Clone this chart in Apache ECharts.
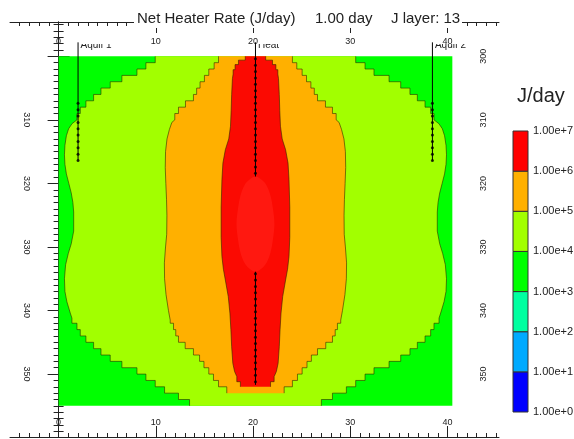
<!DOCTYPE html>
<html><head><meta charset="utf-8">
<script src="https://cdn.jsdelivr.net/npm/echarts@6/dist/echarts.min.js"></script>
<style>html,body{margin:0;padding:0;background:#fff}#c{width:574px;height:439px}</style>
</head><body><div id="c"></div>
<script>
const FONT = "'Liberation Sans', Arial, sans-serif";

// ---------- data ----------
const X_DATA_MAX = 40.5;          // right edge of the model domain (x)
const Y_DATA_TOP = 300, Y_DATA_BOT = 355;

const xMajorTicks = [0, 10, 20, 30, 40];
const yMajorTicks = [300, 310, 320, 330, 340, 350];
const yLeftLabels = [310, 320, 330, 340, 350];
const yRightLabels = [300, 310, 320, 330, 340, 350];

// left-hand contour boundaries: stair rows [x, yFrom, yTo] and smooth parts [x, y]
const limeTopSteps = [[9.94,300,301],[8.98,301,302],[8.06,302,303],[6.51,303,304],[5.31,304,305],[4.36,305,306],[3.6,306,307],[2.81,307,308],[2.23,308,309],[1.89,309,310]];
const limeCurve = [[1.38,310.6],[1.03,311.4],[0.8,312.5],[0.65,314],[0.6,315.5],[0.65,317],[0.8,318.5],[1.05,320],[1.3,321.5],[1.47,323],[1.55,324.5],[1.55,327.5],[1.3,329.5],[1.0,331],[0.72,332.8],[0.6,335],[0.65,337],[0.85,338.6],[1.2,340.4],[1.37,341.2]];
const limeBottomSteps = [[1.37,341.2,342],[1.89,342,343],[2.23,343,344],[2.81,344,345],[3.6,345,346],[4.36,346,347],[5.31,347,348],[6.51,348,349],[8.06,349,350],[8.98,350,351],[9.94,351,352],[10.9,352,353],[12.33,353,354],[13.47,354,355]];

const orangeTopSteps = [[16.45,300,301],[16.0,301,302],[15.45,302,303],[15.0,303,304],[14.55,304,305],[14.2,305,306],[13.87,306,307],[13.05,307,308],[12.33,308,309],[11.95,309,310]];
const orangeCurve = [[11.65,310.4],[11.4,311.5],[11.15,313],[11.0,315],[10.97,317.5],[11.03,320],[11.1,322.5],[11.14,325],[11.12,328],[11.0,330],[10.88,332.5],[10.9,335],[11.05,337.5],[11.3,340],[11.48,341.5]];
const orangeBottomSteps = [[11.48,341.5,342],[11.82,342,343],[12.05,343,344],[12.33,344,345],[13.02,345,346],[13.87,346,347],[14.5,347,348],[14.95,348,349],[15.45,349,350],[15.93,350,351],[16.45,351,352],[17.3,352,353]];

const redTopSteps = [[19.2,300,300.6],[18.5,300.6,301.3],[18.15,301.3,302.1],[17.95,302.1,302.8]];
const redCurve = [[17.88,303.5],[17.8,306],[17.75,308.5],[17.68,311],[17.5,313],[17.15,314.7],[16.9,316.8],[16.8,319.4],[16.72,323.7],[16.72,328.5],[16.8,331.5],[16.95,333.5],[17.15,335.2],[17.45,337.8],[17.62,340.4],[17.72,343],[17.8,345.7],[17.92,348.3],[18.1,349.6],[18.33,350.4]];
const redBottomSteps = [[18.33,350.4,351.2],[18.7,351.2,352]];

// right half of the inner (highest) core, top to bottom
const coreRightHalf = [[20.25,318.9],[20.95,319.5],[21.42,320.4],[21.81,322],[22.05,324],[22.2,326.4],[22.05,328.8],[21.81,330.8],[21.42,332.4],[20.95,333.3],[20.25,333.9]];

// wells
const wellNames = ['Aquif 1', 'Heat', 'Aquif 2'];
const wellX = [2.0, 20.25, 38.45];
const wellTop = [297.8, 297.8, 297.8];
const wellBottom = [316.4, 351.7, 316.4];
const aquifDotsY = [307.4,308.4,309.4,310.4,311.4,312.4,313.4,314.4,315.4,316.4];
const heatDotsY = [300.4,301.4,302.4,303.4,304.4,305.4,306.4,307.4,308.4,309.4,310.4,311.4,312.4,313.4,314.4,315.4,316.4,317.4,318.4,
                   334.2,335.2,336.2,337.2,338.2,339.2,340.2,341.2,342.2,343.2,344.2,345.2,346.2,347.2,348.2,349.2,350.2,351.2];

// colour scale (bottom to top)
const legendColors = ['#0000ff','#00aaff','#00ffa0','#00ff00','#a2ff00','#ffb000','#ff0000'];
const legendLabels = ['1.00e+0','1.00e+1','1.00e+2','1.00e+3','1.00e+4','1.00e+5','1.00e+6','1.00e+7'];
const mapColors = {green:'#00ff00', lime:'#a2ff00', orange:'#ffb000', red:'#fb0a02', core:'#ff1810'};

// ---------- geometry helpers ----------
function buildLeft(top, curve, bottom) {
  const v = [];
  top.forEach(s => { v.push([s[0], s[1]], [s[0], s[2]]); });
  curve.forEach(p => v.push(p));
  bottom.forEach(s => { v.push([s[0], s[1]], [s[0], s[2]]); });
  return v;
}
const mirror = v => v.map(p => [X_DATA_MAX - p[0], p[1]]);
const region = left => left.concat(mirror(left).reverse());

const limeL = buildLeft(limeTopSteps, limeCurve, limeBottomSteps);
const orangeL = buildLeft(orangeTopSteps, orangeCurve, orangeBottomSteps);
const redL = buildLeft(redTopSteps, redCurve, redBottomSteps);

const layers = [
  {color: mapColors.green, poly: [[0,Y_DATA_TOP],[X_DATA_MAX,Y_DATA_TOP],[X_DATA_MAX,Y_DATA_BOT],[0,Y_DATA_BOT]], lines: []},
  {color: mapColors.lime, poly: region(limeL), lines: [limeL, mirror(limeL)]},
  {color: mapColors.orange, poly: region(orangeL), lines: [orangeL, mirror(orangeL)]},
  {color: mapColors.red, poly: region(redL), lines: [redL, mirror(redL)]}
];
const corePoly = coreRightHalf.concat(mirror(coreRightHalf).reverse().slice(1, -1));

const xMinor = [], yMinor = [];
for (let i = -4; i <= 45; i++) xMinor.push(i);
for (let i = 295; i <= 359; i++) yMinor.push(i);

// ---------- axes ----------
const X_MIN = -5, X_MAX = 45.3, Y_MIN = 294.6, Y_MAX = 359.9;
const INK = '#222';
function xAx(pos, major, margin) {
  return {
    type: 'value', gridIndex: 0, position: pos, min: X_MIN, max: X_MAX,
    splitLine: {show: false},
    axisLine: {show: major, lineStyle: {color: INK, width: 1}},
    axisTick: {show: true, inside: true, length: major ? 11 : 4, customValues: major ? xMajorTicks : xMinor, lineStyle: {color: INK, width: 1}},
    axisLabel: major ? {show: true, inside: true, customValues: xMajorTicks, margin: margin, fontSize: 9, color: INK, fontFamily: FONT} : {show: false}
  };
}
function yAx(pos, major, labels, rot, margin) {
  return {
    type: 'value', gridIndex: 0, position: pos, min: Y_MIN, max: Y_MAX, inverse: true,
    splitLine: {show: false},
    axisLine: {show: major, lineStyle: {color: INK, width: 1}},
    axisTick: {show: true, inside: true, length: major ? 11 : 5, customValues: major ? yMajorTicks : yMinor, lineStyle: {color: INK, width: 1}},
    axisLabel: major ? {show: true, inside: true, customValues: labels, rotate: rot, margin: margin, fontSize: 9, color: INK, fontFamily: FONT} : {show: false}
  };
}

const option = {
  animation: false,
  backgroundColor: '#fff',
  grid: [
    {left: 10, right: 75, top: 22, bottom: 2, containLabel: false, outerBoundsMode: 'none'},
    {left: 513, width: 15, top: 131, height: 281, containLabel: false, outerBoundsMode: 'none'},
    {left: 10, right: 75, top: 44, bottom: 2, containLabel: false, outerBoundsMode: 'none'}
  ],
  xAxis: [
    xAx('bottom', true, 10), xAx('bottom', false), xAx('top', true, 15), xAx('top', false),
    {type: 'value', gridIndex: 1, min: 0, max: 1, show: false},
    {type: 'value', gridIndex: 2, min: X_MIN, max: X_MAX, show: false}
  ],
  yAxis: [
    yAx('left', true, yLeftLabels, -90, 12), yAx('left', false), yAx('right', true, yRightLabels, 90, 11), yAx('right', false),
    {type: 'value', gridIndex: 1, min: 0, max: 7, position: 'right',
     axisLine: {show: false}, axisTick: {show: false}, splitLine: {show: false},
     axisLabel: {show: true, customValues: [0,1,2,3,4,5,6,7], formatter: v => legendLabels[Math.round(v)], margin: 5, fontSize: 11, color: INK, fontFamily: FONT}},
    {type: 'value', gridIndex: 2, min: 298.06, max: Y_MAX, inverse: true, show: false}
  ],
  graphic: {elements: [
    {type: 'rect', shape: {x: 134, y: 8, width: 328, height: 20}, style: {fill: '#fff'}, z: 100, silent: true},
    {type: 'text', x: 137, y: 18.5, z: 101, style: {text: 'Net Heater Rate (J/day)', font: '15px ' + FONT, fill: INK, verticalAlign: 'middle'}},
    {type: 'text', x: 315, y: 18.5, z: 101, style: {text: '1.00 day', font: '15px ' + FONT, fill: INK, verticalAlign: 'middle'}},
    {type: 'text', x: 391, y: 18.5, z: 101, style: {text: 'J layer: 13', font: '15px ' + FONT, fill: INK, verticalAlign: 'middle'}},
    {type: 'text', x: 517, y: 96, z: 101, style: {text: 'J/day', font: '20px ' + FONT, fill: INK, verticalAlign: 'middle'}}
  ]},
  series: [
    {
      type: 'custom', xAxisIndex: 0, yAxisIndex: 0, z: 2, silent: true,
      data: layers.map((L, i) => [20, 320, i]),
      renderItem: function (params, api) {
        const L = layers[params.dataIndex];
        const px = pts => pts.map(p => api.coord(p));
        const children = [{type: 'polygon', shape: {points: px(L.poly)}, style: {fill: L.color}}];
        L.lines.forEach(l => children.push({type: 'polyline', shape: {points: px(l)}, style: {fill: null, stroke: 'rgba(40,30,0,0.7)', lineWidth: 0.8}}));
        return {type: 'group', children: children};
      }
    },
    ...wellX.map((x, i) => ({
      type: 'line', xAxisIndex: 0, yAxisIndex: 0, z: 3, silent: true, symbol: 'none',
      data: [[x, wellTop[i]], [x, wellBottom[i]]],
      lineStyle: {color: '#000', width: 1}
    })),
    {
      type: 'scatter', xAxisIndex: 0, yAxisIndex: 0, z: 4, silent: true, symbolSize: 3,
      itemStyle: {color: '#000'},
      data: aquifDotsY.map(y => [wellX[0], y]).concat(heatDotsY.map(y => [wellX[1], y]), aquifDotsY.map(y => [wellX[2], y]))
    },
    {
      type: 'custom', xAxisIndex: 0, yAxisIndex: 0, z: 5, silent: true,
      data: [[20.25, 326.4]],
      renderItem: function (params, api) {
        return {type: 'polygon', shape: {points: corePoly.map(p => api.coord(p)), smooth: 0.35}, style: {fill: mapColors.core}};
      }
    },
    {
      type: 'custom', xAxisIndex: 5, yAxisIndex: 5, z: 6, silent: true, clip: true,
      data: wellX.map((x, i) => [x, 298.2, i]),
      renderItem: function (params, api) {
        const i = params.dataIndex;
        const p = api.coord([wellX[i], 298.2]);
        return {type: 'text', x: p[0] + 2.5, y: p[1], style: {text: wellNames[i], font: '10px ' + FONT, fill: INK, verticalAlign: 'middle'}};
      }
    },
    {
      type: 'custom', xAxisIndex: 4, yAxisIndex: 4, z: 2, silent: true,
      data: legendColors.map((c, i) => [0.5, i + 0.5, i]),
      renderItem: function (params, api) {
        const i = params.dataIndex;
        const a = api.coord([0, i]), b = api.coord([1, i + 1]);
        return {type: 'rect', shape: {x: a[0], y: b[1], width: b[0] - a[0], height: a[1] - b[1]}, style: {fill: legendColors[i], stroke: '#333', lineWidth: 1}};
      }
    }
  ]
};
const chart = echarts.init(document.getElementById('c'), null, {renderer: 'canvas'});
chart.setOption(option);
</script>
</body></html>
